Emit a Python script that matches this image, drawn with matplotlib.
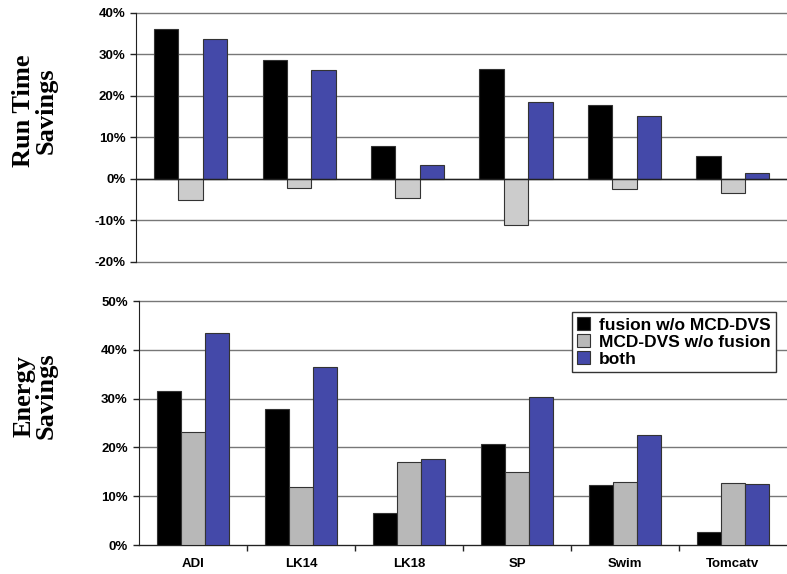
import numpy as np
import matplotlib
matplotlib.use("Agg")
import matplotlib.pyplot as plt

benchmarks = ["ADI", "LK14", "LK18", "SP", "Swim", "Tomcatv"]
series_names = ["fusion w/o MCD-DVS", "MCD-DVS w/o fusion", "both"]

# run time savings (%)
rt_fusion = [36.1, 28.6, 7.9, 26.4, 17.9, 5.5]
rt_dvs = [-5.1, -2.2, -4.6, -11.1, -2.5, -3.4]
rt_both = [33.8, 26.2, 3.4, 18.5, 15.1, 1.5]

# energy savings (%)
en_fusion = [31.6, 27.9, 6.6, 20.7, 12.2, 2.7]
en_dvs = [23.1, 11.9, 17.1, 14.9, 13.0, 12.7]
en_both = [43.5, 36.5, 17.6, 30.3, 22.6, 12.4]

top_colors = ["#000000", "#cccccc", "#4449a9"]
bot_colors = ["#000000", "#b8b8b8", "#4449a9"]

sans = ["Liberation Sans", "DejaVu Sans"]
serif = ["Liberation Serif", "DejaVu Serif"]

fig = plt.figure(figsize=(7.87, 5.74), dpi=100)
ax1 = fig.add_axes([0.1734, 0.5436, 1.0 - 0.1734, 0.4338])
ax2 = fig.add_axes([0.1766, 0.0505, 1.0 - 0.1766, 0.4251])

x = np.arange(len(benchmarks))
width = 0.225
offsets = [-width, 0.0, width]


def style_axis(ax, ylim, yticks):
    ax.set_xlim(-0.5, 5.5)
    ax.set_ylim(*ylim)
    ax.set_yticks(yticks)
    ax.set_yticklabels([f"{t}%" for t in yticks], fontsize=9.5,
                       fontweight="bold", family=sans)
    ax.yaxis.grid(True, color="#777777", linewidth=1.0)
    for gl in ax.get_ygridlines():
        gl.set_clip_on(False)
    ax.set_axisbelow(True)
    for s in ["top", "right"]:
        ax.spines[s].set_visible(False)
    ax.spines["left"].set_color("#222222")
    ax.tick_params(axis="y", length=4, width=1, pad=4, color="#222222")


# --- top: run time ---
for vals, off, c, name in zip([rt_fusion, rt_dvs, rt_both], offsets,
                              top_colors, series_names):
    ax1.bar(x + off, vals, width, color=c, edgecolor="#333333",
            linewidth=0.8, label=name, zorder=3)
style_axis(ax1, (-20, 40), list(range(-20, 41, 10)))
ax1.spines["bottom"].set_visible(False)
ax1.axhline(0, color="#222222", linewidth=1.0, zorder=4)
ax1.set_xticks([])

# --- bottom: energy ---
for vals, off, c, name in zip([en_fusion, en_dvs, en_both], offsets,
                              bot_colors, series_names):
    ax2.bar(x + off, vals, width, color=c, edgecolor="#333333",
            linewidth=0.8, label=name, zorder=3)
style_axis(ax2, (0, 50), list(range(0, 51, 10)))
ax2.spines["bottom"].set_color("#222222")
ax2.set_xticks(x)
ax2.set_xticklabels(benchmarks, fontsize=9.5, fontweight="bold", family=sans)
ax2.set_xticks(x[:-1] + 0.5, minor=True)
ax2.tick_params(axis="x", which="major", length=0, pad=9)
ax2.tick_params(axis="x", which="minor", length=4, width=1, color="#222222")

leg = ax2.legend(loc="upper right", bbox_to_anchor=(0.983, 0.955),
                 prop={"family": sans, "weight": "bold", "size": 12.5},
                 frameon=True, fancybox=False, handlelength=0.75,
                 handleheight=0.75, handletextpad=0.5, labelspacing=0.1,
                 borderpad=0.3, borderaxespad=0)
leg.get_frame().set_edgecolor("#333333")
leg.get_frame().set_linewidth(1.0)
leg.get_frame().set_facecolor("white")
leg.get_frame().set_alpha(1.0)

fig.text(35 / 787, 1 - 111 / 574, "Run Time\nSavings", rotation=90,
         ha="center", va="center", ma="center", fontsize=19,
         fontweight="bold", family=serif, linespacing=0.95)
fig.text(35 / 787, 1 - 396 / 574, "Energy\nSavings", rotation=90,
         ha="center", va="center", ma="center", fontsize=19,
         fontweight="bold", family=serif, linespacing=0.95)

fig.savefig("out.png", dpi=100)
